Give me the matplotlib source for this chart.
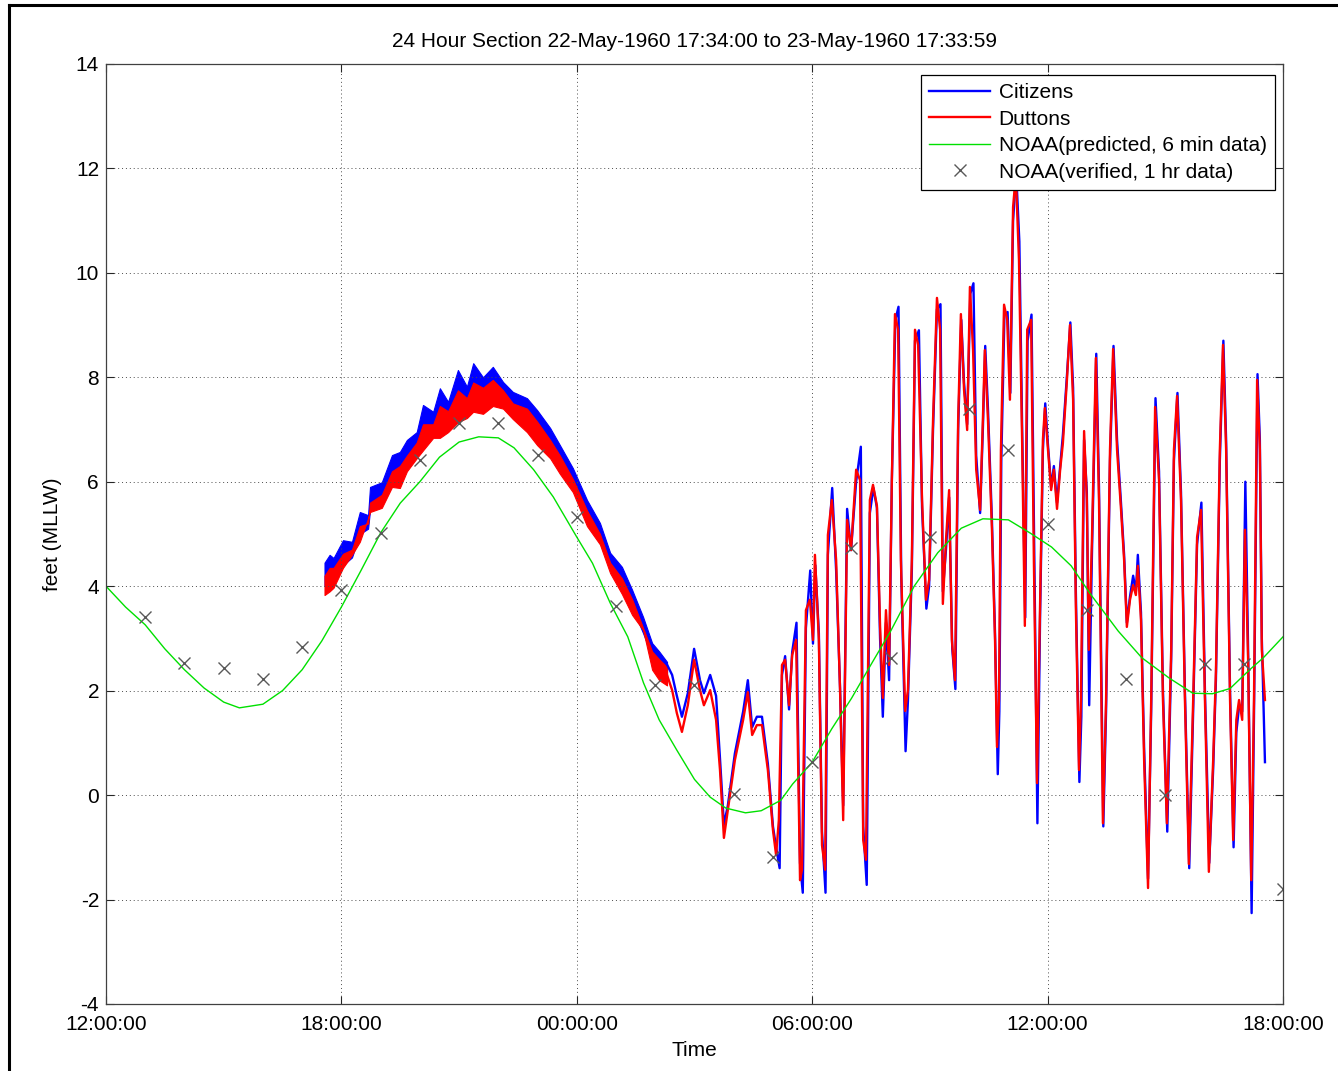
#!/usr/bin/env python3
# -*- coding: utf-8 -*-
"""
24 hour section of the 22/23 May 1960 tide gauge records (Citizens, Duttons)
against the NOAA predicted and verified tide.
"""

import numpy as np
import matplotlib
matplotlib.use('Agg')
import matplotlib.pyplot as plt
from matplotlib.lines import Line2D

plt.rcParams['font.family'] = ['Liberation Sans', 'DejaVu Sans']
plt.rcParams['axes.unicode_minus'] = False

# time axis in hours from midnight 22-May-1960 (24 = 00:00 on 23-May)
tick_hours = [12, 18, 24, 30, 36, 42]
tick_labels = ['12:00:00', '18:00:00', '00:00:00', '06:00:00', '12:00:00', '18:00:00']
y_ticks = [-4, -2, 0, 2, 4, 6, 8, 10, 12, 14]

# NOAA verified, hourly
noaa_hr_t = [13, 14, 15, 16, 17, 18, 19, 20, 21, 22, 23, 24, 25, 26, 27,
             28, 29, 30, 31, 32, 33, 34, 35, 36, 37, 38, 39, 40, 41, 42]
noaa_hr_v = [3.41, 2.53, 2.43, 2.22, 2.84, 3.93, 5.02, 6.42, 7.13, 7.13,
             6.51, 5.33, 3.62, 2.11, 2.11, 0.02, -1.19, 0.63, 4.73, 2.62,
             4.94, 7.39, 6.61, 5.19, 3.54, 2.22, 0.0, 2.51, 2.51, -1.79]

# NOAA predicted
noaa_pred = [(12.0, 4.00), (12.5, 3.6), (13.0, 3.26), (13.5, 2.8), (14.0, 2.40),
             (14.5, 2.05), (15.0, 1.78), (15.4, 1.67), (16.0, 1.74), (16.5, 2.0),
             (17.0, 2.40), (17.5, 2.95), (18.0, 3.6), (18.5, 4.3), (19.0, 5.02),
             (19.5, 5.59), (20.0, 6.0), (20.5, 6.47), (21.0, 6.76), (21.5, 6.86),
             (22.0, 6.84), (22.4, 6.65), (22.9, 6.23), (23.4, 5.71), (24.0, 4.94),
             (24.4, 4.44), (24.85, 3.68), (25.3, 3.03), (25.7, 2.15), (26.1, 1.44),
             (26.55, 0.86), (27.0, 0.3), (27.4, -0.04), (27.8, -0.25), (28.3, -0.34),
             (28.7, -0.3), (29.2, -0.1), (29.5, 0.21), (30.0, 0.63), (30.5, 1.27),
             (31.0, 1.85), (31.5, 2.5), (32.0, 3.14), (32.6, 4.0), (33.2, 4.64),
             (33.8, 5.11), (34.35, 5.29), (35.0, 5.27), (35.55, 5.02), (36.1, 4.75),
             (36.6, 4.39), (37.1, 3.84), (37.8, 3.14), (38.4, 2.63), (39.1, 2.24),
             (39.7, 1.95), (40.2, 1.94), (40.65, 2.04), (41.15, 2.40), (41.5, 2.63),
             (42.0, 3.03)]

# noisy band part of the gauge records (upper / lower edge)
band_t = [17.57, 17.7, 17.8, 18.04, 18.27, 18.47, 18.68, 18.73, 19.03, 19.29,
          19.49, 19.67, 19.92, 20.08, 20.34, 20.51, 20.72, 20.97, 21.2, 21.36,
          21.61, 21.86, 22.12, 22.37, 22.73, 22.99, 23.32, 23.57, 23.9, 24.26,
          24.59, 24.85, 25.15, 25.41, 25.69, 25.92, 26.1, 26.3]
cit_hi = [4.45, 4.6, 4.54, 4.88, 4.85, 5.42, 5.36, 5.9, 5.99, 6.51,
          6.57, 6.8, 6.95, 7.47, 7.34, 7.79, 7.53, 8.14, 7.82, 8.27,
          8.0, 8.2, 7.91, 7.72, 7.6, 7.37, 7.03, 6.7, 6.26, 5.65,
          5.21, 4.64, 4.37, 3.93, 3.41, 2.91, 2.75, 2.55]
cit_lo = [4.0, 4.1, 4.15, 4.4, 4.55, 5.0, 5.1, 5.45, 5.6, 5.95,
          6.15, 6.35, 6.6, 6.9, 7.0, 7.25, 7.2, 7.55, 7.5, 7.7,
          7.65, 7.75, 7.55, 7.35, 7.2, 6.95, 6.6, 6.3, 5.9, 5.3,
          4.85, 4.35, 4.0, 3.6, 3.1, 2.65, 2.45, 2.25]
dut_hi = [4.2, 4.35, 4.35, 4.62, 4.7, 5.15, 5.2, 5.6, 5.75, 6.2,
          6.3, 6.5, 6.75, 7.1, 7.1, 7.45, 7.35, 7.75, 7.6, 7.9,
          7.8, 7.95, 7.75, 7.5, 7.4, 7.15, 6.8, 6.5, 6.05, 5.45,
          5.0, 4.45, 4.15, 3.75, 3.2, 2.75, 2.6, 2.45]
dut_lo = [3.83, 3.9, 3.97, 4.35, 4.6, 4.85, 5.3, 5.42, 5.5, 5.9,
          5.88, 6.2, 6.45, 6.6, 6.84, 6.84, 6.95, 7.14, 7.22, 7.34,
          7.3, 7.45, 7.4, 7.2, 6.95, 6.7, 6.45, 6.15, 5.8, 5.15,
          4.8, 4.25, 3.85, 3.45, 3.16, 2.4, 2.2, 2.1]

# tsunami oscillation part, (hour, feet)
duttons_wave = [
    (26.3, 2.3), (26.43, 2.01), (26.55, 1.57), (26.68, 1.21), (26.83, 1.72),
    (26.99, 2.59), (27.14, 2.01), (27.24, 1.72), (27.4, 2.01), (27.55, 1.44),
    (27.65, 0.48), (27.75, -0.82), (27.85, -0.29), (28.03, 0.67), (28.24, 1.44),
    (28.36, 1.97), (28.47, 1.15), (28.59, 1.34), (28.72, 1.34), (28.87, 0.48),
    (29.0, -0.67), (29.08, -1.15), (29.15, -0.48), (29.23, 2.49), (29.31, 2.59),
    (29.41, 1.72), (29.49, 2.68), (29.59, 2.97), (29.69, -1.63), (29.74, -1.43),
    (29.84, 3.54), (29.94, 3.74), (30.02, 2.97), (30.07, 4.6), (30.17, 2.97),
    (30.25, -0.96), (30.33, -1.43), (30.4, 4.98), (30.5, 5.65), (30.61, 4.5),
    (30.71, 2.01), (30.79, -0.48), (30.89, 5.27), (30.99, 4.69), (31.12, 6.23),
    (31.22, 6.03), (31.3, -0.86), (31.37, -1.24), (31.47, 5.65), (31.55, 5.94),
    (31.65, 5.54), (31.73, 3.24), (31.8, 1.86), (31.88, 3.54), (31.96, 2.49),
    (32.03, 6.03), (32.11, 9.21), (32.19, 8.91), (32.26, 4.5), (32.37, 1.61),
    (32.44, 2.01), (32.54, 4.5), (32.62, 8.91), (32.7, 8.62), (32.8, 5.65),
    (32.9, 3.74), (32.98, 4.12), (33.08, 7.18), (33.18, 9.52), (33.26, 8.91),
    (33.33, 3.66), (33.41, 4.88), (33.49, 5.84), (33.56, 2.97), (33.64, 2.2),
    (33.72, 7.18), (33.79, 9.21), (33.87, 7.76), (33.95, 6.99), (34.02, 9.73),
    (34.1, 8.52), (34.18, 6.23), (34.28, 5.46), (34.35, 7.18), (34.4, 8.52),
    (34.48, 7.18), (34.58, 5.12), (34.66, 2.97), (34.71, 0.92), (34.76, 1.82),
    (34.81, 6.61), (34.89, 9.39), (34.97, 9.1), (35.04, 7.57), (35.12, 11.26),
    (35.19, 11.87), (35.27, 10.25), (35.35, 6.8), (35.42, 3.24), (35.48, 8.91),
    (35.58, 9.1), (35.65, 4.5), (35.73, 0.23), (35.81, 3.74), (35.88, 6.8),
    (35.93, 7.41), (36.01, 6.61), (36.09, 5.84), (36.16, 6.23), (36.24, 5.48),
    (36.32, 6.23), (36.39, 6.74), (36.49, 7.91), (36.57, 9.0), (36.65, 7.57),
    (36.72, 3.6), (36.8, 0.48), (36.85, 1.82), (36.93, 6.97), (37.0, 5.65),
    (37.05, 2.78), (37.13, 4.88), (37.23, 8.37), (37.31, 5.65), (37.41, -0.54),
    (37.49, 1.82), (37.59, 6.61), (37.67, 8.54), (37.77, 6.61), (37.87, 5.48),
    (37.95, 4.5), (38.02, 3.22), (38.1, 3.74), (38.18, 4.02), (38.25, 3.83),
    (38.3, 4.39), (38.38, 3.35), (38.46, 0.67), (38.56, -1.78), (38.64, 1.82),
    (38.74, 7.43), (38.84, 6.03), (38.94, 1.82), (39.04, -0.54), (39.15, 2.78),
    (39.22, 6.61), (39.3, 7.64), (39.4, 5.65), (39.5, 1.82), (39.6, -1.32),
    (39.71, 1.82), (39.81, 4.94), (39.91, 5.46), (40.01, 1.82), (40.11, -1.47),
    (40.22, 0.67), (40.29, 2.36), (40.39, 6.61), (40.47, 8.62), (40.55, 6.61),
    (40.65, 1.82), (40.73, -0.86), (40.81, 1.44), (40.88, 1.82), (40.96, 1.44),
    (41.03, 5.08), (41.11, 2.59), (41.19, -1.63), (41.26, 1.82), (41.34, 7.95),
    (41.41, 6.61), (41.46, 2.78), (41.54, 1.82)]

citizens_wave = [
    (26.3, 2.5), (26.43, 2.3), (26.55, 1.9), (26.68, 1.5), (26.83, 1.95),
    (26.99, 2.8), (27.14, 2.2), (27.24, 1.95), (27.4, 2.3), (27.55, 1.9),
    (27.65, 0.7), (27.75, -0.57), (27.85, -0.2), (28.03, 0.8), (28.24, 1.6),
    (28.36, 2.2), (28.47, 1.3), (28.59, 1.5), (28.72, 1.5), (28.87, 0.6),
    (29.0, -0.6), (29.08, -1.0), (29.17, -1.4), (29.23, 2.3), (29.31, 2.66),
    (29.41, 1.64), (29.49, 2.74), (29.6, 3.3), (29.69, -1.3), (29.76, -1.87),
    (29.84, 3.2), (29.95, 4.3), (30.02, 2.9), (30.08, 4.4), (30.17, 3.1),
    (30.25, -0.7), (30.34, -1.87), (30.4, 4.6), (30.51, 5.88), (30.61, 4.3),
    (30.71, 2.05), (30.79, -0.2), (30.89, 5.48), (30.99, 4.69), (31.12, 6.0),
    (31.24, 6.67), (31.3, -0.6), (31.39, -1.72), (31.47, 5.4), (31.56, 5.88),
    (31.65, 5.5), (31.73, 3.0), (31.8, 1.5), (31.88, 3.3), (31.96, 2.2),
    (32.03, 6.0), (32.12, 9.1), (32.2, 9.35), (32.27, 4.2), (32.38, 0.84),
    (32.44, 1.8), (32.54, 4.3), (32.62, 8.7), (32.72, 8.9), (32.8, 5.5),
    (32.91, 3.57), (32.98, 4.0), (33.08, 7.0), (33.18, 9.3), (33.27, 9.4),
    (33.33, 3.9), (33.41, 4.7), (33.49, 5.7), (33.57, 2.8), (33.65, 2.03),
    (33.72, 7.0), (33.8, 9.1), (33.87, 7.9), (33.95, 7.1), (34.03, 9.6),
    (34.11, 9.8), (34.18, 6.5), (34.28, 5.4), (34.35, 7.0), (34.41, 8.6),
    (34.48, 7.4), (34.58, 5.3), (34.66, 3.1), (34.73, 0.4), (34.77, 1.6),
    (34.82, 6.4), (34.9, 9.2), (34.98, 9.25), (35.05, 7.7), (35.12, 11.0),
    (35.2, 11.9), (35.28, 10.6), (35.35, 7.1), (35.43, 3.4), (35.49, 8.7),
    (35.59, 9.2), (35.66, 4.7), (35.74, -0.54), (35.81, 3.5), (35.88, 6.6),
    (35.94, 7.5), (36.01, 6.7), (36.09, 5.9), (36.16, 6.3), (36.24, 5.6),
    (36.32, 6.3), (36.39, 6.9), (36.49, 8.0), (36.58, 9.05), (36.65, 7.8),
    (36.72, 3.9), (36.81, 0.25), (36.86, 1.5), (36.93, 6.8), (37.0, 5.8),
    (37.06, 1.72), (37.13, 4.6), (37.24, 8.45), (37.31, 5.9), (37.42, -0.6),
    (37.49, 1.6), (37.59, 6.4), (37.68, 8.6), (37.77, 6.8), (37.87, 5.6),
    (37.95, 4.6), (38.02, 3.3), (38.1, 3.8), (38.18, 4.2), (38.25, 3.9),
    (38.3, 4.6), (38.38, 3.5), (38.46, 0.9), (38.56, -1.6), (38.64, 1.6),
    (38.75, 7.6), (38.84, 6.2), (38.94, 2.0), (39.05, -0.7), (39.15, 2.6),
    (39.22, 6.4), (39.31, 7.7), (39.4, 5.8), (39.5, 2.0), (39.61, -1.4),
    (39.71, 1.6), (39.81, 4.8), (39.92, 5.6), (40.01, 2.0), (40.12, -1.3),
    (40.22, 0.5), (40.29, 2.2), (40.39, 6.4), (40.48, 8.7), (40.55, 6.8),
    (40.65, 2.0), (40.74, -1.0), (40.81, 1.2), (40.88, 1.7), (40.96, 1.6),
    (41.04, 6.0), (41.11, 2.8), (41.2, -2.26), (41.26, 1.5), (41.35, 8.06),
    (41.41, 6.8), (41.46, 3.0), (41.54, 0.63)]

blue = (0, 0, 1)
red = (1, 0, 0)
green = (0, 0.88, 0)

fig = plt.figure(figsize=(13.38, 10.71), dpi=100)
ax = fig.add_axes([0.0792, 0.0626, 0.8797, 0.8777])

cit_t, cit_v = np.array(citizens_wave).T
dut_t, dut_v = np.array(duttons_wave).T
pred_t, pred_v = np.array(noaa_pred).T

ax.fill_between(band_t, cit_lo, cit_hi, color=blue, lw=0.8, edgecolor=blue)
ax.plot(cit_t, cit_v, color=blue, lw=1.7, label='Citizens')
ax.fill_between(band_t, dut_lo, dut_hi, color=red, lw=0.8, edgecolor=red)
ax.plot(dut_t, dut_v, color=red, lw=1.7, label='Duttons')
ax.plot(pred_t, pred_v, color=green, lw=1.0, label='NOAA(predicted, 6 min data)')
ax.plot(noaa_hr_t, noaa_hr_v, ls='none', marker='x', ms=8, mew=1.0,
        color='0.35', label='NOAA(verified, 1 hr data)')

ax.set_xlim(12, 42)
ax.set_ylim(-4, 14)
ax.set_xticks(tick_hours)
ax.set_xticklabels(tick_labels)
ax.set_yticks(y_ticks)
ax.tick_params(direction='in', length=6, width=0.8, labelsize=15,
               top=True, right=True, pad=5, colors='0.15', labelcolor='black')
ax.tick_params(axis='x', pad=8)
for s in ax.spines.values():
    s.set_color('0.25')
    s.set_linewidth(0.9)
ax.grid(True, linestyle=(0, (1, 3)), color='0.3', linewidth=0.7)

ax.set_title('24 Hour Section 22-May-1960 17:34:00 to 23-May-1960 17:33:59',
             fontsize=15, pad=12)
ax.set_xlabel('Time', fontsize=15, labelpad=5)
ax.set_ylabel('feet (MLLW)', fontsize=15, labelpad=10)

leg = ax.legend(loc='upper right', bbox_to_anchor=(0.9932, 0.9883), borderaxespad=0,
                fontsize=15, fancybox=False, framealpha=1, edgecolor='black',
                handlelength=2.95, handletextpad=0.4, labelspacing=0.36,
                borderpad=0.4)
leg.get_frame().set_linewidth(0.9)

# figure frame (left and top edges)
fig.add_artist(Line2D([0.0064, 0.0064], [0.0, 0.9955], transform=fig.transFigure,
                      color='black', lw=2.2))
fig.add_artist(Line2D([0.0064, 1.0], [0.9955, 0.9955], transform=fig.transFigure,
                      color='black', lw=2.2))

fig.savefig('out.png', dpi=100)
